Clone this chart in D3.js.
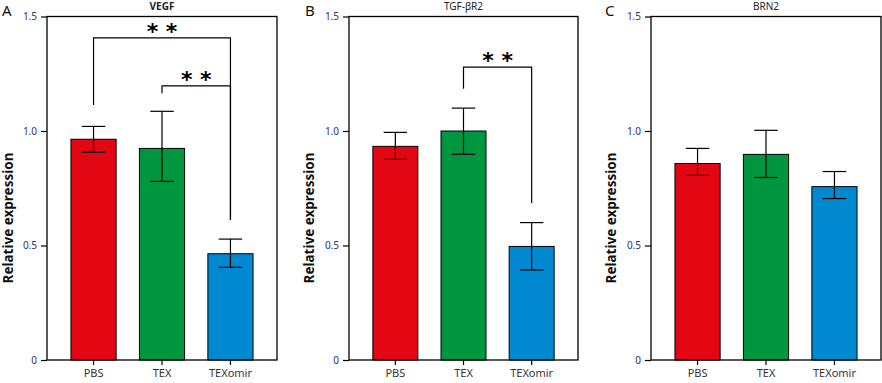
<!DOCTYPE html>
<html><head><meta charset="utf-8">
<script src="https://cdn.jsdelivr.net/npm/d3@7"></script>
<style>body{margin:0;background:#fff}svg{display:block}</style>
</head><body><svg id="c" width="882" height="383"></svg>
<script>
const categories = ["PBS", "TEX", "TEXomir"];
const colors = ["#e30613", "#009640", "#0088d1"];
const panelLetters = ["A", "B", "C"];
const panelTitles = ["VEGF", "TGF-\u03b2R2", "BRN2"];
const titleBold = [true, false, false];
const yTicks = [0, 0.5, 1.0, 1.5];
const yTickLabels = ["0", "0.5", "1.0", "1.5"];
const meansA = [0.964, 0.924, 0.464];
const errLoA = [0.907, 0.780, 0.405];
const errHiA = [1.020, 1.086, 0.528];
const meansB = [0.933, 1.000, 0.496];
const errLoB = [0.876, 0.898, 0.393];
const errHiB = [0.994, 1.100, 0.600];
const meansC = [0.858, 0.898, 0.757];
const errLoC = [0.806, 0.797, 0.705];
const errHiC = [0.924, 1.003, 0.823];
// significance brackets: [fromIdx, toIdx, topValue, leftLegEnd, rightLegEnd, label]
const bracketsA = [[0, 2, 1.407, 1.114, 0.611, "* *"], [1, 2, 1.197, 1.165, 0.611, "* *"]];
const bracketsB = [[1, 2, 1.279, 1.184, 0.686, "* *"]];
const bracketsC = [];

const panels = [
  {x0: 47, x1: 277, means: meansA, lo: errLoA, hi: errHiA, br: bracketsA, letterX: 2, labelX: 13},
  {x0: 349, x1: 578, means: meansB, lo: errLoB, hi: errHiB, br: bracketsB, letterX: 305, labelX: 314},
  {x0: 651, x1: 881, means: meansC, lo: errLoC, hi: errHiC, br: bracketsC, letterX: 605, labelX: 616}
];
const svg = d3.select("#c");
const y = d3.scaleLinear().domain([0, 1.5]).range([360, 16.5]);
const tickFont = "'Noto Sans', 'DejaVu Sans', sans-serif";

panels.forEach((p, i) => {
  const x = d3.scaleBand().domain(categories).range([p.x0, p.x1]).paddingInner(0.34).paddingOuter(0.35);
  const g = svg.append("g");
  g.selectAll("rect.bar").data(categories).join("rect")
    .attr("x", d => x(d)).attr("width", x.bandwidth())
    .attr("y", (d, k) => y(p.means[k])).attr("height", (d, k) => y(0) - y(p.means[k]))
    .attr("fill", (d, k) => colors[k]).attr("stroke", "#000").attr("stroke-width", 1);
  const cap = x.bandwidth() * 0.26;
  categories.forEach((c, k) => {
    const cx = x(c) + x.bandwidth() / 2;
    g.append("line").attr("x1", cx).attr("x2", cx).attr("y1", y(p.lo[k])).attr("y2", y(p.hi[k])).attr("stroke", "#000").attr("stroke-width", 1.2);
    [p.lo[k], p.hi[k]].forEach(v => g.append("line").attr("x1", cx - cap).attr("x2", cx + cap).attr("y1", y(v)).attr("y2", y(v)).attr("stroke", "#000").attr("stroke-width", 1.2));
  });
  g.append("rect").attr("x", p.x0).attr("y", y(1.5)).attr("width", p.x1 - p.x0).attr("height", y(0) - y(1.5))
    .attr("fill", "none").attr("stroke", "#000").attr("stroke-width", 1.3);
  const ya = d3.axisLeft(y).tickValues(yTicks).tickFormat((d, k) => yTickLabels[k]).tickSize(6).tickPadding(4);
  const yg = g.append("g").attr("transform", `translate(${p.x0},0)`).call(ya);
  yg.select(".domain").remove();
  yg.selectAll("line").attr("stroke", "#000").attr("stroke-width", 1.2);
  yg.selectAll("text").attr("font-family", tickFont).attr("font-size", 10).attr("fill", "#2a3570");
  const xa = d3.axisBottom(x).tickSize(5).tickPadding(4);
  const xg = g.append("g").attr("transform", `translate(0,${y(0)})`).call(xa);
  xg.select(".domain").remove();
  xg.selectAll("line").attr("stroke", "#000").attr("stroke-width", 1.2);
  xg.selectAll("text").attr("font-family", tickFont).attr("font-size", 11).attr("fill", "#333");
  g.append("text").attr("x", (p.x0 + p.x1) / 2).attr("y", 10).attr("text-anchor", "middle")
    .attr("font-family", tickFont).attr("font-size", 10).attr("font-weight", titleBold[i] ? "bold" : "normal")
    .attr("fill", "#222").text(panelTitles[i]);
  g.append("text").attr("x", p.letterX).attr("y", 16).attr("font-family", tickFont).attr("font-size", 15).attr("fill", "#111").text(panelLetters[i]);
  g.append("text").attr("transform", `translate(${p.labelX},218) rotate(-90)`).attr("text-anchor", "middle")
    .attr("font-family", tickFont).attr("font-size", 13.5).attr("font-weight", "bold").attr("fill", "#111").text("Relative expression");
  p.br.forEach(b => {
    const xl = x(categories[b[0]]) + x.bandwidth() / 2, xr = x(categories[b[1]]) + x.bandwidth() / 2;
    g.append("path").attr("d", `M${xl},${y(b[3])}V${y(b[2])}H${xr}V${y(b[4])}`)
      .attr("fill", "none").attr("stroke", "#000").attr("stroke-width", 1.2);
    g.append("text").attr("x", (xl + xr) / 2).attr("y", y(b[2]) + 1).attr("text-anchor", "middle")
      .attr("font-family", "'DejaVu Sans', sans-serif").attr("font-size", 22).attr("font-weight", "bold").attr("fill", "#000")
      .text(b[5]);
  });
});
</script></body></html>
